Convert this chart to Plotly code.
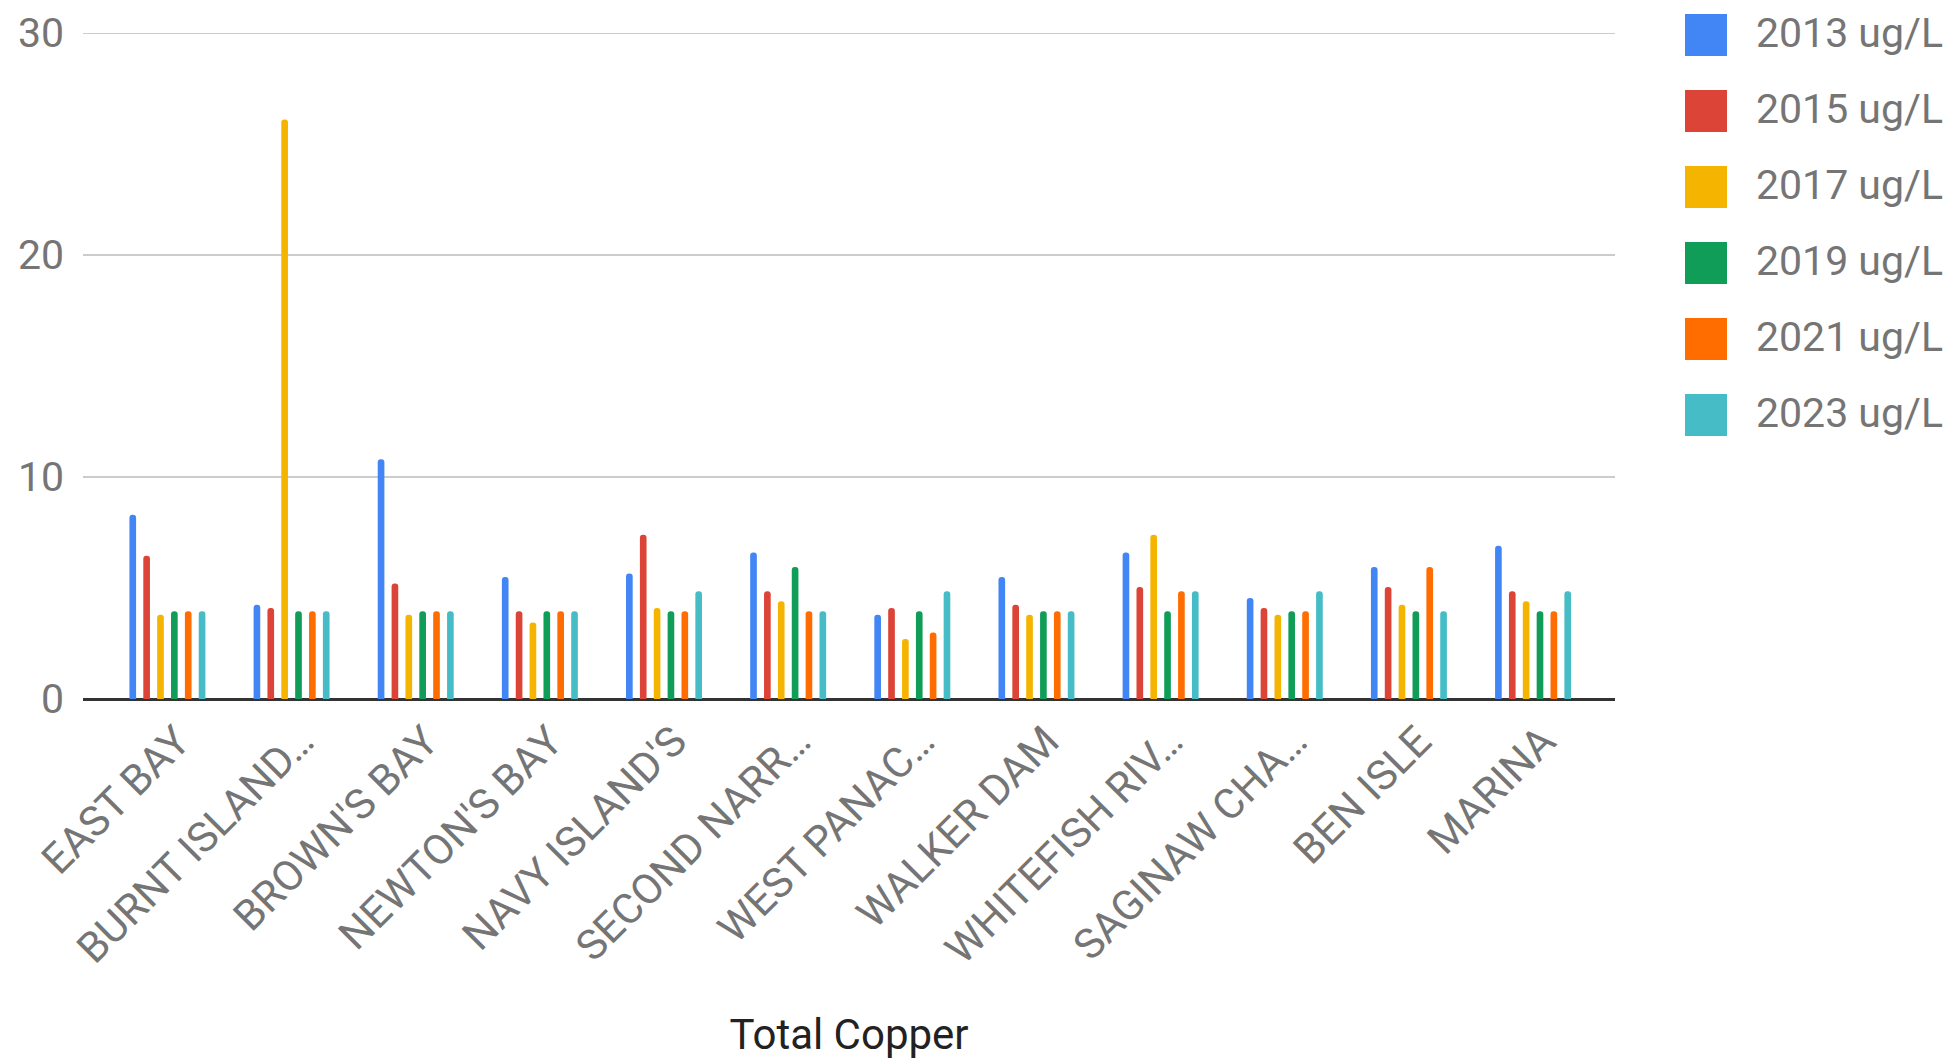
import plotly.graph_objects as go

# Sampling sites (x categories)
sites = ["EAST BAY", "BURNT ISLAND…", "BROWN'S BAY", "NEWTON'S BAY", "NAVY ISLAND'S",
         "SECOND NARR…", "WEST PANAC…", "WALKER DAM", "WHITEFISH RIV…",
         "SAGINAW CHA…", "BEN ISLE", "MARINA"]

# Total copper concentration per survey year (ug/L)
cu_2013 = [8.3, 4.25, 10.8, 5.5, 5.65, 6.6, 3.8, 5.5, 6.6, 4.55, 5.95, 6.9]
cu_2015 = [6.45, 4.1, 5.2, 3.95, 7.4, 4.85, 4.1, 4.25, 5.05, 4.1, 5.05, 4.85]
cu_2017 = [3.8, 26.1, 3.8, 3.45, 4.1, 4.4, 2.7, 3.8, 7.4, 3.8, 4.25, 4.4]
cu_2019 = [3.95, 3.95, 3.95, 3.95, 3.95, 5.95, 3.95, 3.95, 3.95, 3.95, 3.95, 3.95]
cu_2021 = [3.95, 3.95, 3.95, 3.95, 3.95, 3.95, 3.0, 3.95, 4.85, 3.95, 5.95, 3.95]
cu_2023 = [3.95, 3.95, 3.95, 3.95, 4.85, 3.95, 4.85, 3.95, 4.85, 4.85, 3.95, 4.85]

series_names = ["2013 ug/L", "2015 ug/L", "2017 ug/L", "2019 ug/L", "2021 ug/L", "2023 ug/L"]
series_values = [cu_2013, cu_2015, cu_2017, cu_2019, cu_2021, cu_2023]
colors = ["#4285F4", "#DB4437", "#F4B400", "#0F9D58", "#FF6D01", "#46BDC6"]

y_ticks = [0, 10, 20, 30]

W, H = 1951, 1059
ML, MR, MT, MB = 83, 336, 33, 360
plot_w = W - ML - MR
plot_h = H - MT - MB

fig = go.Figure()
for name, vals, col in zip(series_names, series_values, colors):
    fig.add_trace(go.Bar(
        x=sites, y=vals, name=name,
        marker=dict(color=col, line=dict(width=0), cornerradius="50%"),
        showlegend=False,
    ))

# Top gridline sits on the plot edge, so draw it explicitly
shapes = [dict(type="line", xref="paper", yref="y", x0=0, x1=1,
               y0=y_ticks[-1], y1=y_ticks[-1],
               line=dict(color="#cccccc", width=2), layer="below")]
annotations = []

# Custom legend with large square swatches on the right
sw_left, sw_size, row0, pitch, text_left = 1685, 42, 35, 76, 1754


def px_to_paper_x(px):
    return (px - ML) / plot_w


def px_to_paper_y(py):
    return 1 - (py - MT) / plot_h


for i, (name, col) in enumerate(zip(series_names, colors)):
    cy = row0 + i * pitch
    shapes.append(dict(
        type="rect", xref="paper", yref="paper",
        x0=px_to_paper_x(sw_left), x1=px_to_paper_x(sw_left + sw_size),
        y0=px_to_paper_y(cy + sw_size / 2), y1=px_to_paper_y(cy - sw_size / 2),
        fillcolor=col, line=dict(width=0), layer="above",
    ))
    annotations.append(dict(
        text=name, xref="paper", yref="paper",
        x=px_to_paper_x(text_left), y=px_to_paper_y(cy - 2),
        xanchor="left", yanchor="middle", showarrow=False,
        font=dict(family="Roboto", size=41, color="#757575"),
    ))

fig.update_layout(
    width=W, height=H,
    margin=dict(l=ML, r=MR, t=MT, b=MB, pad=0, autoexpand=False),
    paper_bgcolor="white", plot_bgcolor="white",
    barmode="group", bargap=0.33, bargroupgap=0.52,
    font=dict(family="Roboto", color="#757575"),
    shapes=shapes, annotations=annotations,
    xaxis=dict(
        range=[-0.68, 11.66], automargin=False,
        tickangle=-45,
        tickfont=dict(family="Roboto", size=42, color="#757575"),
        ticklabelshift=10, ticklabelstandoff=8,
        showgrid=False, zeroline=False, showline=False, ticks="",
        title=dict(text="Total Copper", font=dict(family="Roboto", size=42, color="#222222"),
                   standoff=60),
    ),
    yaxis=dict(
        range=[0, 30], tickvals=y_ticks, automargin=False,
        tickfont=dict(family="Roboto", size=41, color="#757575"),
        showgrid=True, gridcolor="#cccccc", gridwidth=2,
        zeroline=True, zerolinecolor="#333333", zerolinewidth=3,
        showline=False, ticks="", ticklabelstandoff=18,
    ),
)

fig.write_html("out.html")
